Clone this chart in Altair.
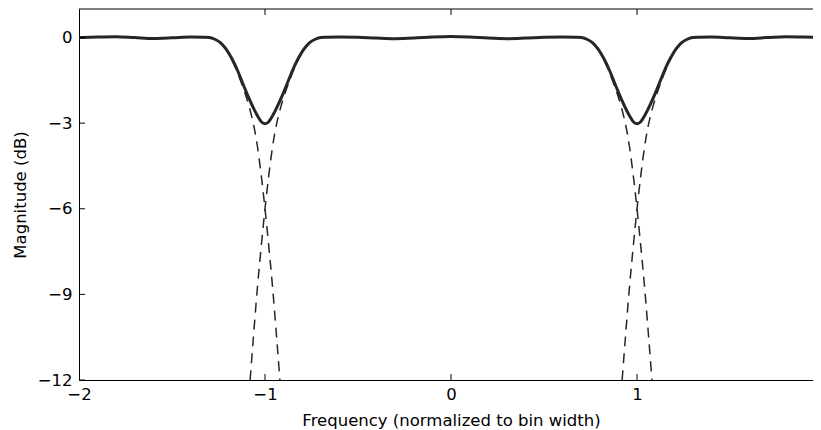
import altair as alt
import pandas as pd

# ---------------- data ----------------
X_TICKS = [-2, -1, 0, 1, 2]
Y_TICKS = [-12, -9, -6, -3, 0]

# combined response (solid line)
SOLID_X = [-2.0, -1.9, -1.8, -1.7, -1.6, -1.5, -1.4, -1.33,
           -1.30, -1.27, -1.24, -1.21, -1.18, -1.15, -1.12, -1.10, -1.08, -1.06, -1.04, -1.02, -1.00,
           -0.98, -0.96, -0.94, -0.92, -0.90, -0.88, -0.85, -0.82, -0.79, -0.76, -0.73, -0.70,
           -0.67, -0.6, -0.5, -0.4, -0.3, -0.2, -0.1, 0.0, 0.1, 0.2, 0.3, 0.4, 0.5, 0.6, 0.67,
           0.70, 0.73, 0.76, 0.79, 0.82, 0.85, 0.88, 0.90, 0.92, 0.94, 0.96, 0.98, 1.00,
           1.02, 1.04, 1.06, 1.08, 1.10, 1.12, 1.15, 1.18, 1.21, 1.24, 1.27, 1.30,
           1.33, 1.4, 1.5, 1.6, 1.7, 1.8, 1.9, 2.0]
SOLID_DB = [0.0, 0.02, 0.03, 0.0, -0.03, -0.01, 0.02, 0.01,
            0.0, -0.06, -0.18, -0.40, -0.72, -1.12, -1.60, -1.92, -2.22, -2.50, -2.75, -2.95, -3.02,
            -2.95, -2.75, -2.50, -2.22, -1.92, -1.60, -1.12, -0.72, -0.40, -0.18, -0.06, 0.0,
            0.01, 0.02, 0.01, -0.02, -0.04, -0.02, 0.02, 0.04, 0.02, -0.02, -0.04, -0.02, 0.01, 0.02, 0.01,
            0.0, -0.06, -0.18, -0.40, -0.72, -1.12, -1.60, -1.92, -2.22, -2.50, -2.75, -2.95, -3.02,
            -2.95, -2.75, -2.50, -2.22, -1.92, -1.60, -1.12, -0.72, -0.40, -0.18, -0.06, 0.0,
            0.01, 0.02, -0.01, -0.03, 0.0, 0.03, 0.02, 0.0]

# single-channel edge responses (dashed lines), same dB profile for every edge
EDGE_DB = [-13.8, -12.0, -10.3, -8.7, -7.3, -6.0, -4.85, -3.85, -3.1, -2.55,
           -2.1, -1.72, -1.2, -0.75, -0.4, -0.18, -0.06, 0.0]
CH0_LEFT_X = [-1.10, -1.08, -1.06, -1.04, -1.02, -1.00, -0.98, -0.96, -0.94, -0.92,
              -0.90, -0.88, -0.85, -0.82, -0.79, -0.76, -0.73, -0.70]
CHM2_RIGHT_X = [-0.90, -0.92, -0.94, -0.96, -0.98, -1.00, -1.02, -1.04, -1.06, -1.08,
                -1.10, -1.12, -1.15, -1.18, -1.21, -1.24, -1.27, -1.30]
CH2_LEFT_X = [0.90, 0.92, 0.94, 0.96, 0.98, 1.00, 1.02, 1.04, 1.06, 1.08,
              1.10, 1.12, 1.15, 1.18, 1.21, 1.24, 1.27, 1.30]
CH0_RIGHT_X = [1.10, 1.08, 1.06, 1.04, 1.02, 1.00, 0.98, 0.96, 0.94, 0.92,
               0.90, 0.88, 0.85, 0.82, 0.79, 0.76, 0.73, 0.70]

# ---------------- build tables ----------------
solid_df = pd.DataFrame({"f": SOLID_X, "db": SOLID_DB})
rows = []
for name, xs in [("ch0_left", CH0_LEFT_X), ("chm2_right", CHM2_RIGHT_X),
                 ("ch2_left", CH2_LEFT_X), ("ch0_right", CH0_RIGHT_X)]:
    for xv, dv in zip(xs, EDGE_DB):
        rows.append({"edge": name, "f": xv, "db": dv})
dash_df = pd.DataFrame(rows)
xt_df = pd.DataFrame({"f": X_TICKS})
yt_df = pd.DataFrame({"db": Y_TICKS})

# the reference's plot area runs past the right edge of the picture;
# the visible part (x = -2 ... ~1.946) is what is drawn here
W, H = 734, 371
X_VISIBLE_MAX = 1.946
FONT = "DejaVu Sans"
INK = "#262626"

xscale = alt.Scale(domain=[-2, X_VISIBLE_MAX], nice=False, zero=False)
yscale = alt.Scale(domain=[-12, 1], nice=False, zero=False)

xaxis = alt.Axis(values=X_TICKS, format="d", title="Frequency (normalized to bin width)",
                 ticks=False, tickSize=0, labelPadding=6, grid=False, labelFlush=False,
                 titleX=(W * 4.0 / (X_VISIBLE_MAX + 2)) / 2, titleY=45,
                 titleBaseline="alphabetic", titleAlign="center")
yaxis = alt.Axis(values=Y_TICKS, format="d", title="Magnitude (dB)",
                 ticks=False, tickSize=0, labelPadding=7, grid=False, labelFlush=False,
                 titleX=-54, titleY=H / 2, titleAngle=270, titleBaseline="alphabetic")

dashed = alt.Chart(dash_df).mark_line(
    clip=True, color=INK, strokeWidth=1.5, strokeDash=[10, 7], interpolate="monotone"
).encode(
    x=alt.X("f:Q", scale=xscale, axis=xaxis),
    y=alt.Y("db:Q", scale=yscale, axis=yaxis),
    detail="edge:N",
)

solid = alt.Chart(solid_df).mark_line(
    clip=True, color=INK, strokeWidth=3, interpolate="monotone"
).encode(x=alt.X("f:Q", scale=xscale), y=alt.Y("db:Q", scale=yscale))

# inward-pointing tick marks (matplotlib classic look)
xt_bottom = alt.Chart(xt_df).mark_rule(color="black", strokeWidth=1, clip=True).encode(
    x=alt.X("f:Q", scale=xscale), y=alt.value(H), y2=alt.value(H - 6))
xt_top = alt.Chart(xt_df).mark_rule(color="black", strokeWidth=1, clip=True).encode(
    x=alt.X("f:Q", scale=xscale), y=alt.value(0), y2=alt.value(6))
yt_left = alt.Chart(yt_df).mark_rule(color="black", strokeWidth=1).encode(
    y=alt.Y("db:Q", scale=yscale), x=alt.value(0), x2=alt.value(6))
# top frame line
top_frame = alt.Chart(yt_df.head(1)).mark_rule(color="black", strokeWidth=1).encode(
    y=alt.value(0), x=alt.value(0), x2=alt.value(W))

chart = alt.layer(dashed, solid, xt_bottom, xt_top, yt_left, top_frame).properties(
    width=W, height=H,
    autosize=alt.AutoSizeParams(type="none"),
    padding={"left": 71, "top": 1, "right": 0, "bottom": 50},
).configure_view(
    stroke="transparent", strokeWidth=0
).configure_axis(
    labelFont=FONT, labelFontSize=16.5, labelColor="black",
    titleFont=FONT, titleFontSize=16.5, titleFontWeight="normal", titleColor="black",
    domainColor="black", domainWidth=1,
)

chart.save("out.html", embed_options={"renderer": "svg", "actions": False})
